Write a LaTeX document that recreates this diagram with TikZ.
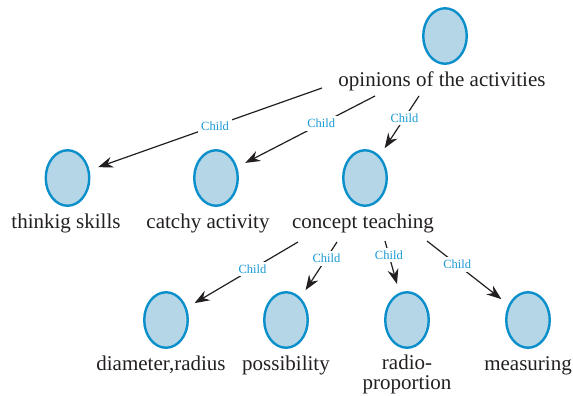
\documentclass[tikz,border=0pt]{standalone}
\usepackage{fontspec}
\setmainfont{Liberation Serif}
\usetikzlibrary{arrows.meta,shapes.geometric}
\definecolor{txt}{HTML}{231F20}
\definecolor{elborder}{HTML}{0A8FCB}
\definecolor{elfill}{HTML}{B5D6E7}
\definecolor{childc}{HTML}{1A9AD6}
\tikzset{
  blob/.style={ellipse,draw=elborder,fill=elfill,line width=2.4pt,minimum width=43.5pt,minimum height=55.5pt,inner sep=0pt},
  lbl/.style={anchor=base,text=txt,font=\fontsize{21}{20}\selectfont,inner sep=0pt},
  arr/.style={draw=txt,line width=1.2pt,-{Stealth[length=15pt,width=11pt,inset=5pt]},shorten >=9pt},
  childlab/.style={fill=white,text=childc,font=\fontsize{12.5}{13}\selectfont,inner sep=3pt}
}
\begin{document}
\begin{tikzpicture}[x=1pt,y=-1pt]
\useasboundingbox (0,0) rectangle (573,396);
% nodes
\node[blob] (e0) at (445,36) {};
\node[lbl] (l0) at (442,87) {opinions of the activities};
\node[blob] (e1) at (67.5,178) {};
\node[lbl] (l1) at (66,228) {thinkig skills};
\node[blob] (e2) at (216,178) {};
\node[lbl] (l2) at (208,228) {catchy activity};
\node[blob] (e3) at (365,178) {};
\node[lbl] (l3) at (363,228) {concept teaching};
\node[blob] (e4) at (166,320) {};
\node[lbl] (l4) at (161,370) {diameter,radius};
\node[blob] (e5) at (286,320) {};
\node[lbl] (l5) at (286,370) {possibility};
\node[blob] (e6) at (407,320) {};
\node[lbl,anchor=north,align=center] (l6) at (407,355) {radio-\\proportion};
\node[blob] (e7) at (528,320) {};
\node[lbl] (l7) at (528,370) {measuring};
% connector start points
\coordinate (s1) at (322,88);
\coordinate (s2) at (375,96);
\coordinate (s3) at (419,96);
\coordinate (s4) at (298,242);
\coordinate (s5) at (337,242);
\coordinate (s6) at (385,241);
\coordinate (s7) at (427,241);
% connectors
\draw[arr] (s1) -- node[childlab,pos=0.46]{Child} (e1);
\draw[arr] (s2) -- node[childlab,pos=0.39]{Child} (e2);
\draw[arr] (s3) -- node[childlab,pos=0.37]{Child} (e3);
\draw[arr] (s4) -- node[childlab,pos=0.41]{Child} (e4);
\draw[arr] (s5) -- node[childlab,pos=0.29]{Child} (e5);
\draw[arr] (s6) -- node[childlab,pos=0.27]{Child} (e6);
\draw[arr] (s7) -- node[childlab,pos=0.37]{Child} (e7);
\end{tikzpicture}
\end{document}
